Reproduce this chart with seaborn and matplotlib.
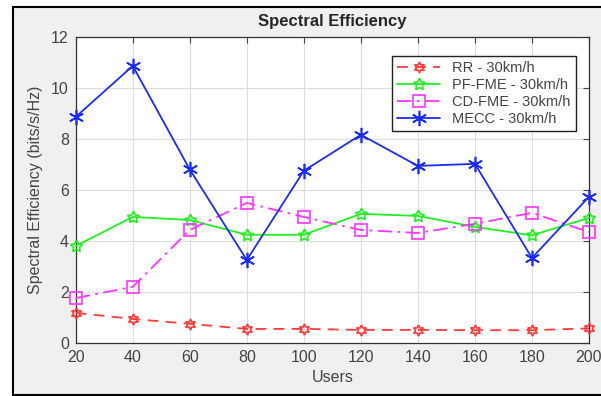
import numpy as np
import pandas as pd
import matplotlib
matplotlib.use("Agg")
import matplotlib.pyplot as plt
from matplotlib.patches import Rectangle
import seaborn as sns

users = [20, 40, 60, 80, 100, 120, 140, 160, 180, 200]
rr = [1.18, 0.94, 0.75, 0.55, 0.55, 0.51, 0.51, 0.50, 0.50, 0.57]
pf_fme = [3.8, 4.94, 4.82, 4.24, 4.24, 5.06, 4.98, 4.55, 4.22, 4.9]
cd_fme = [1.76, 2.2, 4.43, 5.49, 4.94, 4.43, 4.31, 4.67, 5.1, 4.35]
mecc = [8.86, 10.86, 6.8, 3.25, 6.75, 8.16, 6.94, 7.02, 3.33, 5.73]

labels = ["RR - 30km/h", "PF-FME - 30km/h", "CD-FME - 30km/h", "MECC - 30km/h"]

sns.set_style("whitegrid")
plt.rcParams['font.family'] = ['Liberation Sans', 'DejaVu Sans']

fig = plt.figure(figsize=(6.01, 3.96), dpi=100, facecolor="white")
# grey figure panel with black frame (right edge runs off the image)
fig.patches.append(Rectangle((13 / 601, 1 / 396), 1.05 - 13 / 601, 1 - 8 / 396,
                             transform=fig.transFigure, facecolor="#f0f0f0",
                             edgecolor="black", linewidth=1.5, zorder=-10))
ax = fig.add_axes([0.126, 0.134, 0.854, 0.773])

series = [
    (rr, labels[0], "#ff3b3b", (0, (6, 4)), (6, 1, 0), 8),
    (pf_fme, labels[1], "#22ee22", "-", (5, 1, 0), 9),
    (cd_fme, labels[2], "#ff33ff", (0, (8, 3, 1.5, 3)), "s", 8),
    (mecc, labels[3], "#1a2cf0", "-", (6, 2, 0), 11),
]
for vals, lab, col, ls, mk, ms in series:
    df = pd.DataFrame({"Users": users, "SE": vals})
    sns.lineplot(data=df, x="Users", y="SE", ax=ax, color=col, linestyle=ls,
                 marker=mk, markersize=ms, markerfacecolor="none",
                 markeredgecolor=col, markeredgewidth=1.2, linewidth=1.3,
                 label=lab, clip_on=False, zorder=3)

ax.set_xlim(20, 200)
ax.set_ylim(0, 12)
ax.set_xticks(range(20, 201, 20))
ax.set_yticks(range(0, 13, 2))
ax.grid(True, color="#dddddd", linewidth=0.8)
for s in ax.spines.values():
    s.set_color("#333333")
    s.set_linewidth(0.9)
ax.tick_params(labelsize=11.5, colors="#444444", direction="in", length=4,
               width=0.8, pad=5, top=True, right=True)
ax.set_xlabel("Users", fontsize=11.5, color="#444444", labelpad=4)
ax.set_ylabel("Spectral Efficiency (bits/s/Hz)", fontsize=11.5, color="#444444",
              labelpad=6)
ax.set_title("Spectral Efficiency", fontsize=12, fontweight="bold", pad=8)

leg = ax.legend(loc="upper right", fontsize=10.5, fancybox=False, framealpha=1,
                edgecolor="#222222", borderpad=0.35, labelspacing=0.2,
                handlelength=3, bbox_to_anchor=(0.988, 0.96))
leg.get_frame().set_linewidth(1.0)
for t in leg.get_texts():
    t.set_color("#444444")

fig.savefig("out.png", dpi=100, facecolor=fig.get_facecolor())
